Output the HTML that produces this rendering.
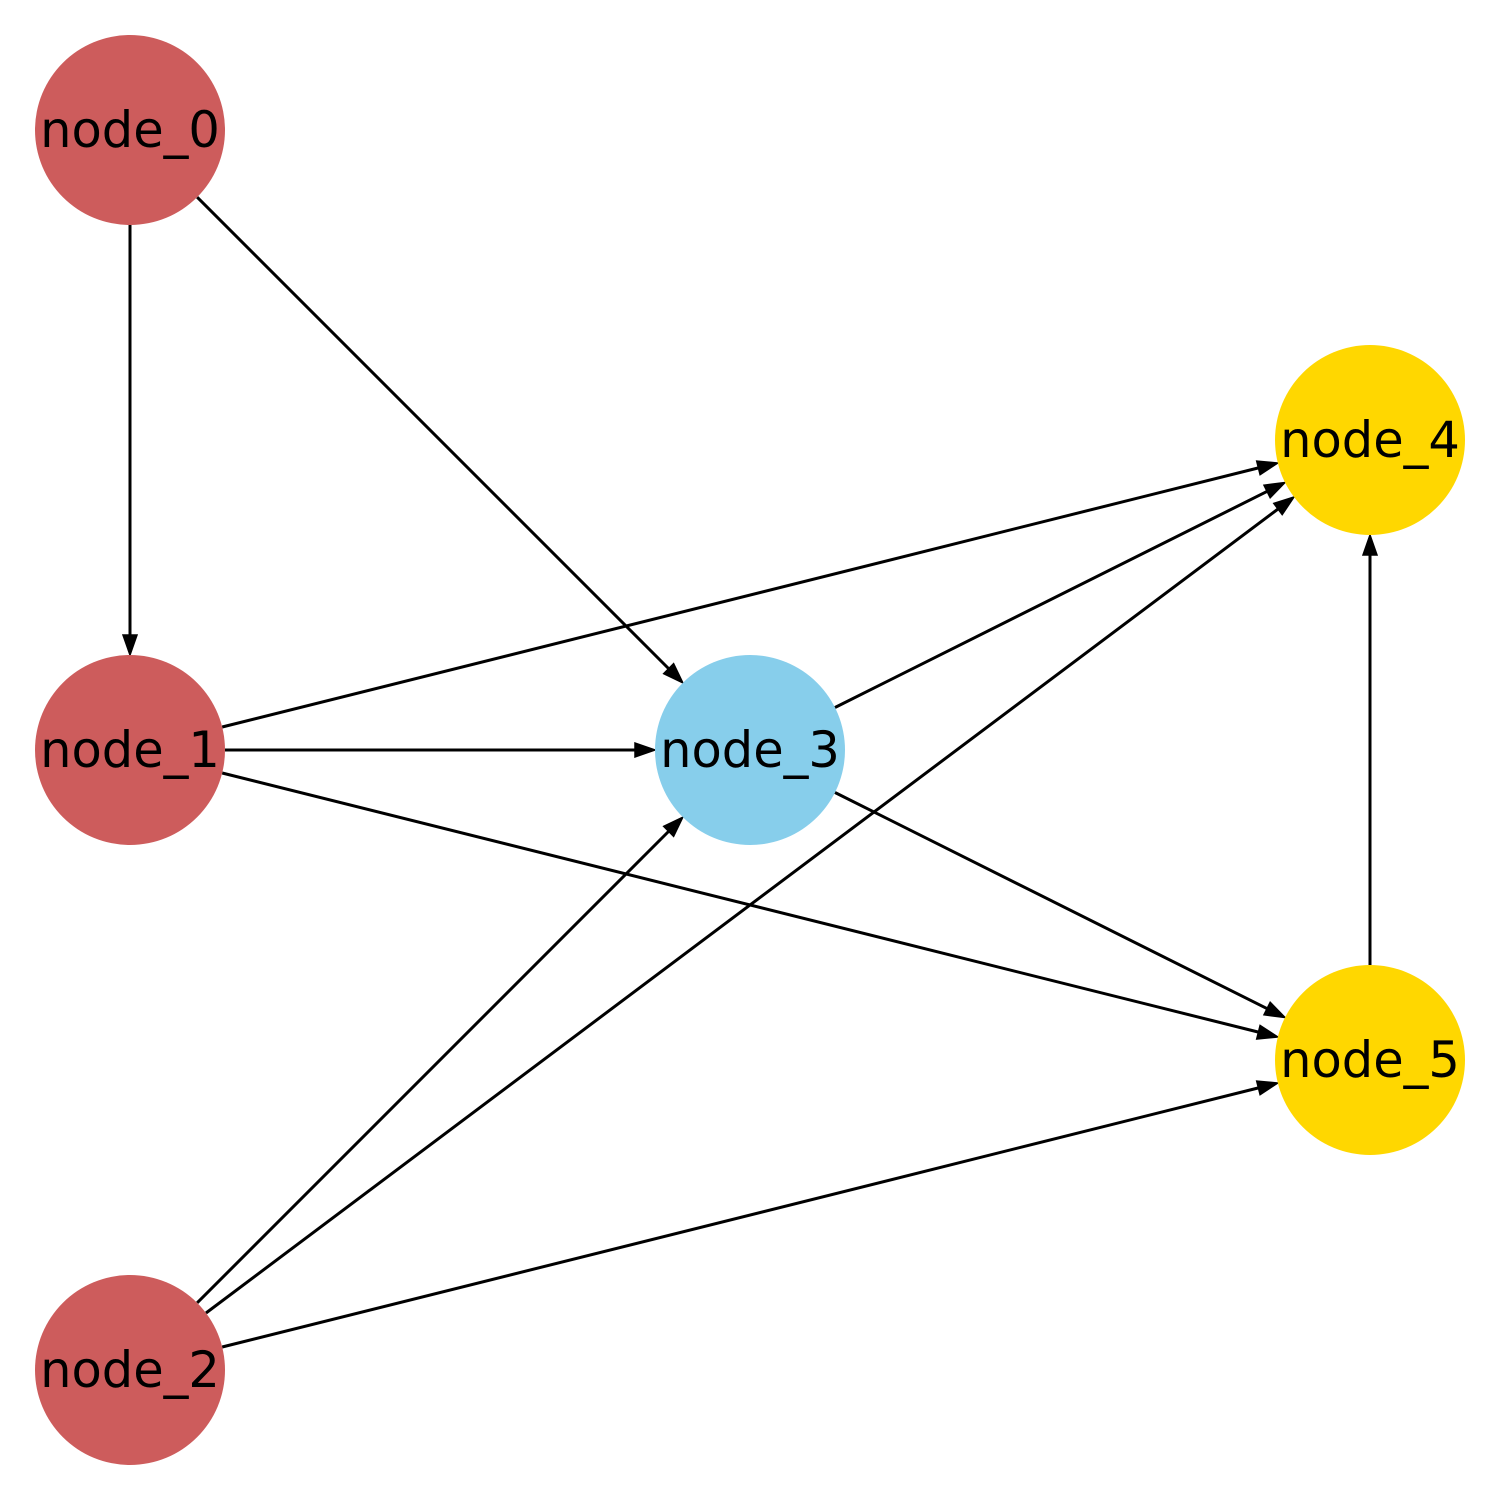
<!DOCTYPE html>
<html><head><meta charset="utf-8"><style>html,body{margin:0;padding:0;background:#fff}</style></head>
<body>
<svg width="1500" height="1500" xmlns="http://www.w3.org/2000/svg">
<rect width="1500" height="1500" fill="#fff"/>
<g stroke="#000" stroke-width="3" fill="none">
<line x1="130" y1="225" x2="130" y2="637"/>
<line x1="197.2" y1="197.2" x2="670" y2="670"/>
<line x1="225" y1="750" x2="637" y2="750"/>
<line x1="222.2" y1="727" x2="1260" y2="467.5"/>
<line x1="222.2" y1="773" x2="1260" y2="1032.5"/>
<line x1="197.2" y1="1302.8" x2="670" y2="830"/>
<line x1="206" y1="1313" x2="1280" y2="507.5"/>
<line x1="222.2" y1="1347" x2="1260" y2="1087.5"/>
<line x1="835" y1="707.5" x2="1268.5" y2="490.7"/>
<line x1="835" y1="792.5" x2="1268.5" y2="1009.3"/>
<line x1="1370" y1="965" x2="1370" y2="553"/>
</g>
<g fill="#000" stroke="#000" stroke-width="1.5" stroke-linejoin="miter">
<polygon points="130,655 123,635 137,635"/>
<polygon points="682.8,682.8 663.7,673.6 673.6,663.7"/>
<polygon points="655,750 635,743 635,757"/>
<polygon points="1277.8,463 1260.1,474.7 1256.7,461.1"/>
<polygon points="1277.8,1037 1256.7,1039 1260.1,1025.4"/>
<polygon points="682.8,817.2 673.6,836.3 663.7,826.4"/>
<polygon points="1294,497 1282.2,514.6 1273.8,503.4"/>
<polygon points="1277.8,1083 1260.1,1094.7 1256.7,1081.1"/>
<polygon points="1285,482.5 1270.2,497.7 1264,485.2"/>
<polygon points="1285,1017.5 1264,1014.8 1270.2,1002.3"/>
<polygon points="1370,535 1363,555 1377,555"/>
</g>
<g>
<circle cx="130" cy="130" r="95" fill="#CD5C5C"/>
<circle cx="130" cy="750" r="95" fill="#CD5C5C"/>
<circle cx="130" cy="1370" r="95" fill="#CD5C5C"/>
<circle cx="750" cy="750" r="95" fill="#87CEEB"/>
<circle cx="1370" cy="440" r="95" fill="#FFD700"/>
<circle cx="1370" cy="1060" r="95" fill="#FFD700"/>
</g>
<g font-family="'DejaVu Sans', 'Liberation Sans', sans-serif" font-size="49.5" text-anchor="middle" dominant-baseline="central" fill="#000">
<text x="130" y="130">node_0</text>
<text x="130" y="750">node_1</text>
<text x="130" y="1370">node_2</text>
<text x="750" y="750">node_3</text>
<text x="1370" y="440">node_4</text>
<text x="1370" y="1060">node_5</text>
</g>
</svg>
</body></html>
